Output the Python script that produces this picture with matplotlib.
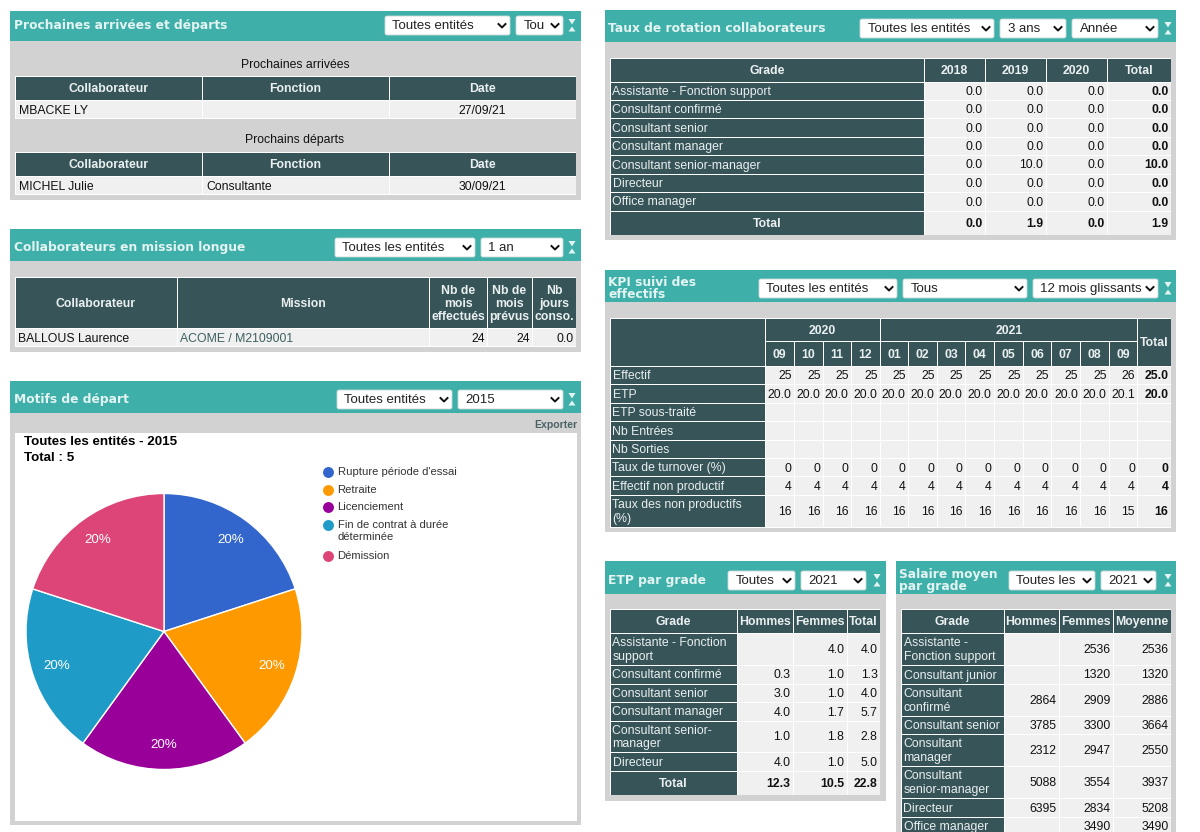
import matplotlib
matplotlib.use("Agg")
import matplotlib.pyplot as plt
from matplotlib.patches import Rectangle, FancyBboxPatch, Polygon

plt.rcParams['font.family'] = ['Liberation Sans', 'DejaVu Sans']

#Data
arrival_row = ["MBACKE LY", "", "27/09/21"]
departure_row = ["MICHEL Julie", "Consultante", "30/09/21"]

mission_row = ["BALLOUS Laurence", "ACOME / M2109001", "24", "24", "0.0"]

pie_labels = ["Rupture période d'essai", "Retraite", "Licenciement",
              "Fin de contrat à durée\ndéterminée", "Démission"]
pie_values = [1, 1, 1, 1, 1]
pie_colors = ["#3366CC", "#FF9900", "#990099", "#1F9BC7", "#DD4477"]

rotation_grades = ["Assistante - Fonction support", "Consultant confirmé", "Consultant senior",
                   "Consultant manager", "Consultant senior-manager", "Directeur", "Office manager"]
rotation_2018 = [0.0, 0.0, 0.0, 0.0, 0.0, 0.0, 0.0]
rotation_2019 = [0.0, 0.0, 0.0, 0.0, 10.0, 0.0, 0.0]
rotation_2020 = [0.0, 0.0, 0.0, 0.0, 0.0, 0.0, 0.0]
rotation_total = [0.0, 0.0, 0.0, 0.0, 10.0, 0.0, 0.0]
rotation_sum = [0.0, 1.9, 0.0, 1.9]

kpi_months = ["09", "10", "11", "12", "01", "02", "03", "04", "05", "06", "07", "08", "09"]
kpi_labels = ["Effectif", "ETP", "ETP sous-traité", "Nb Entrées", "Nb Sorties",
              "Taux de turnover (%)", "Effectif non productif", "Taux des non productifs\n(%)"]
kpi_effectif = [25, 25, 25, 25, 25, 25, 25, 25, 25, 25, 25, 25, 26, 25.0]
kpi_etp = [20.0, 20.0, 20.0, 20.0, 20.0, 20.0, 20.0, 20.0, 20.0, 20.0, 20.0, 20.0, 20.1, 20.0]
kpi_soustraite = [None] * 14
kpi_entrees = [None] * 14
kpi_sorties = [None] * 14
kpi_turnover = [0, 0, 0, 0, 0, 0, 0, 0, 0, 0, 0, 0, 0, 0]
kpi_nonprod = [4, 4, 4, 4, 4, 4, 4, 4, 4, 4, 4, 4, 4, 4]
kpi_tauxnonprod = [16, 16, 16, 16, 16, 16, 16, 16, 16, 16, 16, 16, 15, 16]

etp_grades = ["Assistante - Fonction\nsupport", "Consultant confirmé", "Consultant senior",
              "Consultant manager", "Consultant senior-\nmanager", "Directeur"]
etp_hommes = [None, 0.3, 3.0, 4.0, 1.0, 4.0]
etp_femmes = [4.0, 1.0, 1.0, 1.7, 1.8, 1.0]
etp_total = [4.0, 1.3, 4.0, 5.7, 2.8, 5.0]
etp_sum = [12.3, 10.5, 22.8]

salaire_grades = ["Assistante -\nFonction support", "Consultant junior", "Consultant\nconfirmé",
                  "Consultant senior", "Consultant\nmanager", "Consultant\nsenior-manager",
                  "Directeur", "Office manager"]
salaire_hommes = [None, None, 2864, 3785, 2312, 5088, 6395, None]
salaire_femmes = [2536, 1320, 2909, 3300, 2947, 3554, 2834, 3490]
salaire_moyenne = [2536, 1320, 2886, 3664, 2550, 3937, 5208, 3490]

#Colors
TEAL = "#3FAFA9"
DARK = "#375459"
BODY = "#D2D2D2"
CELL = "#F0F0F0"
TITLE = "#E3F4F2"

W, H = 1200, 832
fig = plt.figure(figsize=(W / 100, H / 100), dpi=100, facecolor="white")
ax = fig.add_axes([0, 0, 1, 1])
ax.set_xlim(0, W)
ax.set_ylim(H, 0)
ax.axis("off")


def rect(x0, y0, x1, y1, color, z=1):
    ax.add_patch(Rectangle((x0, y0), x1 - x0, y1 - y0, facecolor=color, edgecolor="none", zorder=z))


def label(x, y, s, size=8.8, color="#111111", weight="normal", ha="left", **kw):
    #va center sits a pixel high compared to the browser text
    return ax.text(x, y + 1, s, fontsize=size, color=color, fontweight=weight, ha=ha, va="center",
                   linespacing=1.12, zorder=5, **kw)


def select(x0, x1, y0, y1, s):
    box = FancyBboxPatch((x0 + 1, y0 + 1), x1 - x0 - 2, y1 - y0 - 2, boxstyle="round,pad=1,rounding_size=2",
                         facecolor="white", edgecolor="#C8D8D6", linewidth=0.6, zorder=3)
    ax.add_patch(box)
    t = label(x0 + 7.5, (y0 + y1) / 2 - 0.5, s, size=9.5, color="#222222")
    clip = Rectangle((x0, y0), x1 - x0 - 17, y1 - y0, transform=ax.transData)
    t.set_clip_path(clip)
    cx, cy = x1 - 8, (y0 + y1) / 2
    ax.plot([cx - 3.5, cx, cx + 3.5], [cy - 1.5, cy + 2, cy - 1.5], color="#111111", lw=1.4, zorder=5)


def panel(x0, x1, y0, y1, y2, title, selects, arrow_x):
    rect(x0, y0, x1, y2, BODY)
    rect(x0, y0, x1, y1, TEAL, z=2)
    #title and arrows line up with the selects, not the band
    ym = (selects[0][2] + selects[0][3]) / 2
    t = label(x0 + 3.5, ym - 1, title, size=8.85, color=TITLE, weight="bold", family="DejaVu Sans")
    t.set_linespacing(0.92)
    for s in selects:
        select(*s)
    ax.add_patch(Polygon([(arrow_x - 3.5, ym - 6.5), (arrow_x + 3.5, ym - 6.5), (arrow_x, ym - 1)],
                         facecolor=TITLE, edgecolor="none", zorder=4))
    ax.add_patch(Polygon([(arrow_x - 3.5, ym + 6), (arrow_x + 3.5, ym + 6), (arrow_x, ym + 1)],
                         facecolor=TITLE, edgecolor="none", zorder=4))


def header_cell(x0, x1, y0, y1, s):
    rect(x0 + 0.5, y0 + 0.5, x1 - 0.5, y1 - 0.5, DARK, z=3)
    label((x0 + x1) / 2, (y0 + y1) / 2, s, color="#EAF0F0", weight="bold", ha="center")


def row_cell(x0, x1, y0, y1, s):
    rect(x0 + 0.5, y0 + 0.5, x1 - 0.5, y1 - 0.5, DARK, z=3)
    label(x0 + 2.5, (y0 + y1) / 2, s, color="#EAF0F0")


def value_cell(x0, x1, y0, y1, s, bold=False, ha="right", color="#111111", pad=2.5):
    rect(x0 + 0.5, y0 + 0.5, x1 - 0.5, y1 - 0.5, CELL, z=3)
    if s is None:
        return
    if ha == "right":
        tx = x1 - pad
    elif ha == "left":
        tx = x0 + pad
    else:
        tx = (x0 + x1) / 2
    label(tx, (y0 + y1) / 2, s, weight="bold" if bold else "normal", ha=ha, color=color)


def fmt(v, dec):
    if v is None:
        return None
    return f"{v:.{dec}f}"


def grade_table(cols, rows, heads, grades, series, dec, total=None):
    rect(cols[0], rows[0], cols[-1], min(rows[-1], H), "white", z=2)
    for i, h in enumerate(heads):
        header_cell(cols[i], cols[i + 1], rows[0], rows[1], h)
    for j, g in enumerate(grades):
        row_cell(cols[0], cols[1], rows[j + 1], rows[j + 2], g)
        for i, s in enumerate(series):
            last = i == len(series) - 1
            value_cell(cols[i + 1], cols[i + 2], rows[j + 1], rows[j + 2], fmt(s[j], dec), bold=last and dec == 1 and len(heads) == 5)
    if total is not None:
        header_cell(cols[0], cols[1], rows[-2], rows[-1], "Total")
        for i, v in enumerate(total):
            value_cell(cols[i + 1], cols[i + 2], rows[-2], rows[-1], fmt(v, 1), bold=True)


#Prochaines arrivees et departs
panel(10, 581, 11, 41, 200, "Prochaines arrivées et départs",
      [(385, 510, 16, 35, "Toutes entités"), (516, 563, 16, 35, "Tou")], 572)
for title, ty, top, row in [("Prochaines arrivées", 63.5, 76, arrival_row), ("Prochains départs", 139, 152, departure_row)]:
    label(295, ty, title, ha="center")
    cols = [15, 202, 389, 576]
    rect(15, top, 576, top + 43, "white", z=2)
    for i, h in enumerate(["Collaborateur", "Fonction", "Date"]):
        header_cell(cols[i], cols[i + 1], top, top + 24.5, h)
    value_cell(cols[0], cols[1], top + 24.5, top + 42.5, row[0], ha="left", pad=4)
    value_cell(cols[1], cols[2], top + 24.5, top + 42.5, row[1], ha="left", pad=4)
    value_cell(cols[2], cols[3], top + 24.5, top + 42.5, row[2], ha="center")

#Collaborateurs en mission longue
panel(10, 581, 229, 261, 352, "Collaborateurs en mission longue",
      [(335, 475, 238, 257, "Toutes les entités"), (481, 563, 238, 257, "1 an")], 572)
cols = [15, 177, 429, 487, 532, 576]
rect(15, 276.5, 576, 347, "white", z=2)
for i, h in enumerate(["Collaborateur", "Mission", "Nb de\nmois\neffectués", "Nb de\nmois\nprévus", "Nb\njours\nconso."]):
    header_cell(cols[i], cols[i + 1], 277, 328.5, h)
value_cell(cols[0], cols[1], 328.5, 346.5, mission_row[0], ha="left")
value_cell(cols[1], cols[2], 328.5, 346.5, mission_row[1], ha="left", color="#3D5F5F")
for i in range(2, 5):
    value_cell(cols[i], cols[i + 1], 328.5, 346.5, mission_row[i])

#Motifs de depart
panel(10, 581, 381, 413, 825, "Motifs de départ",
      [(337, 452, 390, 409, "Toutes entités"), (458, 563, 390, 409, "2015")], 572)
label(577, 424, "Exporter", size=7.6, color="#4A6266", weight="bold", ha="right")
rect(15, 432.5, 577, 820.5, "white", z=2)
label(24, 441, "Toutes les entités - 2015", size=9.6, weight="bold", color="#000000")
label(24, 457, "Total : 5", size=9.6, weight="bold", color="#000000")
legend_y = [472, 489.5, 507, 524.5, 555.5]
for y, s, c in zip(legend_y, pie_labels, pie_colors):
    ax.scatter([328], [y], s=62, color=c, zorder=5, linewidths=0)
    ax.text(337.5, y - 4.8, s, fontsize=8.1, color="#333333", ha="left", va="top", linespacing=1.35, zorder=5)

pie_ax = fig.add_axes([26 / W, 1 - 770 / H, 276 / W, 277 / H])
wedges, texts, autotexts = pie_ax.pie(pie_values, colors=pie_colors, startangle=90, counterclock=False,
                                      autopct="%1.0f%%", pctdistance=0.82, radius=1,
                                      wedgeprops={"edgecolor": "white", "linewidth": 1})
for t in autotexts:
    t.set_color("white")
    t.set_fontsize(9.6)
pie_ax.set_xlim(-1.0, 1.0)
pie_ax.set_ylim(-1.0, 1.0)

#Taux de rotation collaborateurs
panel(605, 1176, 10, 42, 240, "Taux de rotation collaborateurs",
      [(860, 994, 19, 38, "Toutes les entités"), (1000, 1066, 19, 38, "3 ans"), (1072, 1158, 19, 38, "Année")], 1168)
grade_table([610, 924, 985, 1046, 1107, 1171], [58, 82, 100, 118, 137, 155, 174, 192, 211, 235],
            ["Grade", "2018", "2019", "2020", "Total"], rotation_grades,
            [rotation_2018, rotation_2019, rotation_2020, rotation_total], 1, total=rotation_sum)

#KPI suivi des effectifs
panel(605, 1176, 270, 302, 532, "KPI suivi des\neffectifs",
      [(759, 897, 279, 298, "Toutes les entités"), (903, 1027, 279, 298, "Tous"), (1033, 1158, 279, 298, "12 mois glissants")], 1168)
cols = [610, 765, 794, 823, 851, 880, 908, 937, 965, 994, 1023, 1051, 1080.5, 1109, 1137.5, 1171]
rows = [318, 341.5, 366, 384.5, 403, 421.5, 440, 458.5, 476.5, 495, 527]
rect(610, 317.5, 1171, 527.5, "white", z=2)
header_cell(cols[0], cols[1], rows[0], rows[2], "")
header_cell(cols[1], cols[5], rows[0], rows[1], "2020")
header_cell(cols[5], cols[14], rows[0], rows[1], "2021")
header_cell(cols[14], cols[15], rows[0], rows[2], "Total")
for i, m in enumerate(kpi_months):
    header_cell(cols[i + 1], cols[i + 2], rows[1], rows[2], m)
kpi_series = [kpi_effectif, kpi_etp, kpi_soustraite, kpi_entrees, kpi_sorties, kpi_turnover, kpi_nonprod, kpi_tauxnonprod]
for j, (name, vals) in enumerate(zip(kpi_labels, kpi_series)):
    row_cell(cols[0], cols[1], rows[j + 2], rows[j + 3], name)
    for i, v in enumerate(vals):
        dec = 1 if vals is kpi_etp or (vals is kpi_effectif and i == 13) else 0
        value_cell(cols[i + 1], cols[i + 2], rows[j + 2], rows[j + 3], fmt(v, dec), bold=i == 13)

#ETP par grade
panel(605, 885.5, 561, 594, 801, "ETP par grade",
      [(728, 795, 571, 590, "Toutes"), (801, 866, 571, 590, "2021")], 877)
grade_table([610, 737, 793, 847, 880], [609, 633, 665, 684, 702, 721, 752, 771, 795],
            ["Grade", "Hommes", "Femmes", "Total"], etp_grades,
            [etp_hommes, etp_femmes, etp_total], 1, total=etp_sum)

#Salaire moyen par grade
panel(895.5, 1176, 561, 594, 842, "Salaire moyen\npar grade",
      [(1009, 1095, 571, 590, "Toutes les"), (1101, 1156, 571, 590, "2021")], 1168)
grade_table([901, 1004, 1059, 1113, 1171], [609, 633, 665, 684, 716, 734, 766, 798, 817, 835.5],
            ["Grade", "Hommes", "Femmes", "Moyenne"], salaire_grades,
            [salaire_hommes, salaire_femmes, salaire_moyenne], 0)

fig.savefig("out.png", dpi=100, facecolor="white")
